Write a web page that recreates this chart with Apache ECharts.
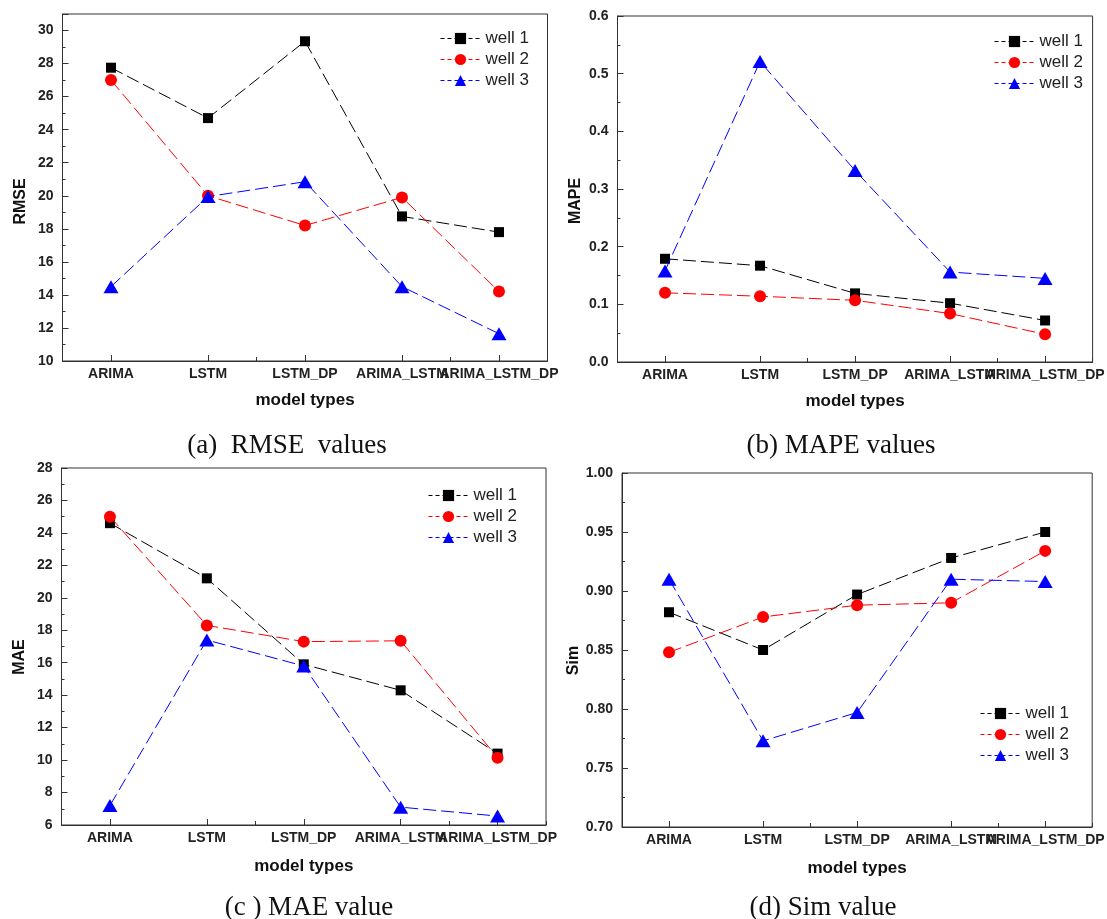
<!DOCTYPE html>
<html><head><meta charset="utf-8">
<script src="https://cdn.jsdelivr.net/npm/echarts@6/dist/echarts.min.js"></script>
<style>html,body{margin:0;padding:0;background:#fff}#c{width:1107px;height:919px}</style>
</head><body><div id="c"></div>
<script>
const categories = ['ARIMA', 'LSTM', 'LSTM_DP', 'ARIMA_LSTM', 'ARIMA_LSTM_DP'];
const seriesNames = ['well 1', 'well 2', 'well 3'];

const rmseWell1 = [27.75, 24.7, 29.35, 18.75, 17.8];
const rmseWell2 = [27.0, 20.0, 18.2, 19.9, 14.2];
const rmseWell3 = [14.5, 19.95, 20.85, 14.5, 11.65];

const mapeWell1 = [0.179, 0.167, 0.119, 0.102, 0.072];
const mapeWell2 = [0.120, 0.114, 0.107, 0.084, 0.048];
const mapeWell3 = [0.158, 0.521, 0.332, 0.156, 0.145];

const maeWell1 = [24.6, 21.2, 15.9, 14.3, 10.4];
const maeWell2 = [25.0, 18.3, 17.3, 17.35, 10.15];
const maeWell3 = [7.2, 17.4, 15.8, 7.1, 6.55];

const simWell1 = [0.882, 0.850, 0.897, 0.928, 0.950];
const simWell2 = [0.848, 0.878, 0.888, 0.890, 0.934];
const simWell3 = [0.910, 0.773, 0.797, 0.910, 0.908];

const yNames = ['RMSE', 'MAPE', 'MAE', 'Sim'];
const xName = 'model types';
const captions = ['(a)  RMSE  values', '(b) MAPE values', '(c ) MAE value', '(d) Sim value'];

const FONT = '"Liberation Sans", Arial, Helvetica, sans-serif';
const SERIF = '"Liberation Serif", "Times New Roman", serif';
const colors = ['#000000', '#ff0000', '#0000ff'];
const symbols = ['rect', 'circle', 'triangle'];
const symbolSizes = [10, 12, [15, 13]];

const panels = [
  { grid: { left: 62.5, top: 14, width: 485, height: 347 }, min: 10, max: 31, interval: 2, dec: 0,
    data: [rmseWell1, rmseWell2, rmseWell3], namePad: 28, xGap: 31, legend: { left: 440, top: 30 }, cap: [287, 446] },
  { grid: { left: 617.5, top: 16, width: 481, height: 346 }, min: 0, max: 0.6, interval: 0.1, dec: 1,
    data: [mapeWell1, mapeWell2, mapeWell3], namePad: 24, xGap: 31, legend: { left: 994, top: 33 }, cap: [841, 446] },
  { grid: { left: 61.5, top: 468, width: 484.5, height: 357 }, min: 6, max: 28, interval: 2, dec: 0,
    data: [maeWell1, maeWell2, maeWell3], namePad: 21, xGap: 33, legend: { left: 428, top: 487 }, cap: [309, 908] },
  { grid: { left: 622, top: 473, width: 477, height: 354 }, min: 0.7, max: 1.0, interval: 0.05, dec: 2,
    data: [simWell1, simWell2, simWell3], namePad: 21, xGap: 33, legend: { left: 980, top: 705 }, cap: [823, 908] }
];

const option = { animation: false, backgroundColor: '#fff', grid: [], xAxis: [], yAxis: [], series: [], legend: [], graphic: [] };

panels.forEach((p, i) => {
  option.grid.push(Object.assign({ show: true, borderColor: '#333', borderWidth: 1, backgroundColor: 'transparent' }, p.grid));
  option.xAxis.push({
    type: 'category', gridIndex: i, data: categories, boundaryGap: true,
    name: xName, nameLocation: 'middle', nameGap: p.xGap,
    nameTextStyle: { fontFamily: FONT, fontSize: 17, fontWeight: 'bold', color: '#111' },
    axisLine: { show: true, lineStyle: { color: '#333', width: 1 } },
    axisTick: { show: true, inside: true, alignWithLabel: true, length: 6, lineStyle: { color: '#333' } },
    axisLabel: { interval: 0, hideOverlap: false, margin: 6, fontFamily: FONT, fontSize: 14, fontWeight: 'bold', color: '#222' },
    splitLine: { show: false }
  });
  option.xAxis.push({
    type: 'category', gridIndex: i, data: categories, boundaryGap: true, position: 'bottom',
    axisLine: { show: false },
    axisTick: { show: true, inside: true, length: 4, lineStyle: { color: '#333' } },
    axisLabel: { show: false }, splitLine: { show: false }
  });
  option.yAxis.push({
    type: 'value', gridIndex: i, min: p.min, max: p.max, interval: p.interval,
    name: yNames[i], nameLocation: 'middle', nameRotate: 90, nameGap: 34,
    nameTextStyle: { fontFamily: FONT, fontSize: 16, fontWeight: 'bold', color: '#111', padding: [0, p.namePad, 0, 0] },
    axisLine: { show: true, lineStyle: { color: '#333', width: 1 } },
    axisTick: { show: true, inside: true, length: 6, lineStyle: { color: '#333' } },
    minorTick: { show: true, splitNumber: 2, length: 3, lineStyle: { color: '#333' } },
    axisLabel: { margin: 9, fontFamily: FONT, fontSize: 14, fontWeight: 'bold', color: '#222',
      showMaxLabel: i === 0 ? false : true,
      formatter: v => Number(v).toFixed(p.dec) },
    splitLine: { show: false }
  });
  p.data.forEach((d, k) => {
    option.series.push({
      type: 'line', name: seriesNames[k], xAxisIndex: 2 * i, yAxisIndex: i, data: d,
      symbol: symbols[k], symbolSize: symbolSizes[k], showSymbol: true,
      itemStyle: { color: colors[k], borderWidth: 0 },
      lineStyle: { color: colors[k], width: 1, type: [13, 5] },
      z: 2 + k
    });
  });
  option.legend.push({
    data: seriesNames, orient: 'vertical', left: p.legend.left, top: p.legend.top,
    itemWidth: 40, itemHeight: 14, itemGap: 4, padding: 0,
    selectedMode: false,
    textStyle: { fontFamily: FONT, fontSize: 17, color: '#222' },
    lineStyle: { type: [4, 3], width: 1 }
  });
  option.graphic.push({
    type: 'text', x: p.cap[0], y: p.cap[1],
    style: { text: captions[i], fontFamily: SERIF, fontSize: 27, fill: '#111', align: 'center', verticalAlign: 'middle' }
  });
});

const chart = echarts.init(document.getElementById('c'));
chart.setOption(option);
</script></body></html>
